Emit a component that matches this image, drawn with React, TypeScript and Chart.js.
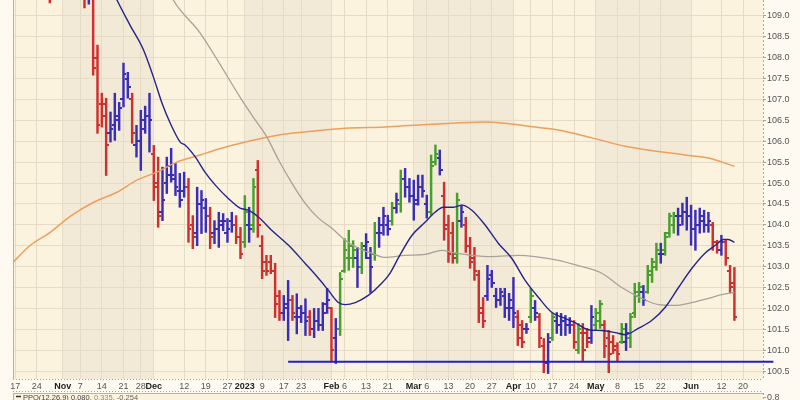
import React, { useEffect, useRef } from "react";
import { Chart, registerables } from "chart.js";
Chart.register(...registerables);

// ---- axis / ticks ----
const tickIdx = [0, 5, 11, 15, 20, 25, 29, 32, 39, 44, 49, 53, 57, 62, 66, 73, 76, 81, 86, 92, 95, 100, 105, 110, 115, 119, 124, 129, 134, 139, 144, 149, 156, 163, 168];
const tickLabels = ["17", "24", "Nov", "7", "14", "21", "28", "Dec", "12", "19", "27", "2023", "9", "17", "23", "Feb", "6", "13", "21", "Mar", "6", "13", "20", "27", "Apr", "10", "17", "24", "May", "8", "15", "22", "Jun", "12", "20"];
const majorLabels = ["Nov", "Dec", "2023", "Feb", "Mar", "Apr", "May", "Jun"];
const monthBands = [[11, 32], [53, 73], [92, 115], [134, 156]];
const priceTicks = [100.5, 101.0, 101.5, 102.0, 102.5, 103.0, 103.5, 104.0, 104.5, 105.0, 105.5, 106.0, 106.5, 107.0, 107.5, 108.0, 108.5, 109.0];
const xMin = -0.5;
const xMax = 172.6;
const yMin = 100.31;
const yMax = 109.38;

// ---- daily OHLC (index 0 = Oct 17, 2022) ----
const opens = [
  110.6, 110.5, 110.2, 110.4, 110.7, 110.3, 110.0, 110.2, 109.8, 109.6,
  110.0, 110.2, 109.9, 110.1, 110.4, 110.1, 109.8, 109.5, 109.5, 108.0,
  106.9, 106.9, 106.2, 106.4, 106.5, 107.0, 107.5, 107.0, 105.9, 106.0,
  106.5, 106.6, 105.7, 105.0, 104.3, 105.0, 105.4, 105.1, 104.8, 104.8,
  104.9, 104.0, 103.8, 104.5, 104.4, 104.2, 103.8, 103.9, 104.0, 103.8,
  104.1, 104.0, 103.7, 103.6, 104.0, 104.0, 105.3, 103.5, 103.1, 103.1,
  102.9, 102.3, 101.9, 102.0, 102.2, 101.8, 101.8, 101.9, 101.8, 101.5,
  101.7, 101.6, 102.1, 102.0, 101.3, 101.5, 102.9, 103.2, 103.2, 103.2,
  103.0, 103.5, 103.2, 103.3, 103.8, 104.0, 104.0, 104.1, 104.4, 104.5,
  105.1, 104.9, 104.7, 104.6, 104.9, 104.5, 104.3, 105.5, 105.6, 104.7,
  104.0, 103.8, 103.3, 104.1, 104.0, 103.5, 103.2, 102.8, 102.0, 102.3,
  102.8, 102.3, 102.2, 102.3, 102.0, 102.0, 101.8, 101.6, 101.5, 101.8,
  102.0, 101.8, 101.1, 100.7, 101.3, 101.7, 101.6, 101.7, 101.6, 101.6,
  101.0, 101.4, 101.4, 101.3, 101.6, 101.7, 101.6, 101.3, 101.2, 101.1,
  101.2, 101.2, 101.3, 101.9, 102.3, 102.4, 102.4, 102.8, 103.0, 103.3,
  103.4, 103.8, 104.0, 104.2, 104.2, 104.3, 104.2, 103.9, 104.0, 104.1,
  104.0, 104.0, 103.6, 103.4, 103.6, 102.9, 102.6,
];
const highs = [
  110.9, 110.8, 110.6, 110.9, 111.0, 110.5, 110.4, 110.5, 110.1, 110.2,
  110.4, 110.5, 110.3, 110.6, 110.7, 110.3, 110.0, 109.9, 109.7, 108.3,
  107.15, 107.03, 106.7, 107.15, 106.93, 107.87, 107.65, 107.15, 106.38, 106.74,
  106.84, 107.15, 105.9, 105.62, 105.38, 105.62, 105.83, 105.47, 105.23, 105.26,
  105.11, 104.22, 104.9, 104.82, 104.63, 104.42, 104.1, 104.3, 104.27, 104.15,
  104.3, 104.22, 103.94, 104.7, 104.42, 105.11, 105.54, 103.74, 103.27, 103.27,
  103.08, 102.43, 102.31, 102.67, 102.31, 102.35, 102.07, 102.23, 101.95, 102.0,
  102.0, 102.14, 102.48, 102.02, 101.76, 102.86, 103.67, 103.87, 103.62, 103.46,
  103.58, 103.79, 103.46, 104.06, 104.18, 104.42, 104.23, 104.54, 104.76, 105.31,
  105.35, 105.11, 105.07, 105.19, 105.19, 104.71, 105.67, 105.91, 105.79, 105.02,
  104.23, 104.06, 104.76, 104.47, 104.18, 103.7, 103.46, 102.91, 102.26, 103.03,
  102.91, 102.48, 102.48, 102.48, 102.36, 102.74, 101.95, 101.71, 101.64, 102.48,
  102.19, 101.88, 101.28, 101.4, 101.88, 101.9, 101.88, 101.83, 101.78, 101.71,
  101.64, 101.64, 101.52, 102.07, 102.0, 102.19, 101.71, 101.47, 101.35, 101.18,
  101.64, 101.64, 101.88, 102.6, 102.62, 102.55, 103.03, 103.2, 103.56, 103.56,
  103.82, 104.28, 104.3, 104.4, 104.52, 104.66, 104.47, 104.35, 104.4, 104.35,
  104.3, 104.06, 103.63, 103.75, 103.63, 103.03, 102.98,
];
const lows = [
  110.3, 110.1, 109.9, 110.2, 110.3, 109.8, 109.7, 109.6, 109.31, 109.5,
  109.7, 109.8, 109.6, 109.9, 110.0, 109.6, 109.19, 109.28, 107.58, 106.19,
  106.34, 105.18, 105.98, 106.02, 106.26, 106.82, 107.03, 105.95, 105.62, 105.3,
  106.19, 105.74, 104.58, 103.94, 104.1, 104.75, 105.02, 104.7, 104.42, 104.66,
  103.58, 103.43, 103.5, 103.79, 103.82, 103.43, 103.55, 103.46, 103.86, 103.58,
  103.82, 103.55, 103.19, 103.46, 103.58, 103.82, 103.7, 102.71, 102.79, 102.83,
  101.78, 101.71, 101.71, 101.23, 101.71, 101.39, 101.66, 101.35, 101.35, 101.3,
  101.47, 101.47, 101.88, 100.75, 100.68, 101.35, 102.86, 102.91, 102.98, 102.5,
  102.83, 103.19, 102.38, 103.15, 103.46, 103.75, 103.75, 103.99, 104.28, 104.3,
  104.66, 104.54, 104.11, 104.47, 104.66, 104.16, 104.23, 105.43, 105.19, 103.63,
  103.1, 103.08, 103.08, 103.94, 103.34, 102.96, 102.67, 101.66, 101.54, 102.19,
  102.5, 102.02, 102.07, 101.78, 101.71, 101.54, 101.11, 101.06, 101.4, 101.66,
  101.71, 101.06, 100.46, 100.44, 101.23, 101.4, 101.35, 101.35, 101.4, 101.04,
  100.92, 100.75, 101.06, 101.16, 101.47, 101.52, 100.82, 100.46, 100.92, 100.75,
  101.16, 100.99, 101.06, 101.78, 102.14, 102.07, 102.36, 102.62, 102.91, 103.08,
  103.27, 103.7, 103.8, 103.75, 103.99, 103.87, 103.51, 103.39, 103.8, 103.82,
  103.82, 103.39, 103.32, 103.27, 103.03, 102.38, 101.71,
];
const closes = [
  110.5, 110.2, 110.4, 110.7, 110.4, 110.0, 110.2, 109.8, 109.5, 110.0,
  110.2, 109.9, 110.1, 110.4, 110.1, 109.8, 109.4, 109.6, 107.75, 106.4,
  106.6, 105.9, 106.3, 106.6, 106.8, 107.6, 107.3, 106.2, 106.0, 106.3,
  106.6, 106.5, 104.9, 104.2, 104.6, 105.2, 105.2, 104.9, 104.6, 104.9,
  103.9, 103.7, 104.5, 104.6, 104.2, 103.7, 103.9, 104.1, 104.1, 103.9,
  104.0, 103.7, 103.3, 104.3, 103.9, 104.9, 104.0, 102.9, 102.9, 102.9,
  102.1, 101.9, 102.1, 102.2, 101.9, 102.0, 101.9, 101.7, 101.5, 101.7,
  101.6, 101.9, 102.2, 101.0, 101.5, 102.7, 103.4, 103.5, 103.4, 103.0,
  103.4, 103.6, 103.0, 103.8, 103.8, 104.2, 103.9, 104.4, 104.6, 105.1,
  104.9, 104.7, 104.5, 104.9, 104.8, 104.3, 105.4, 105.7, 105.3, 103.9,
  103.3, 103.2, 104.6, 104.3, 103.5, 103.1, 102.9, 101.9, 101.7, 102.7,
  102.6, 102.2, 102.4, 102.0, 102.2, 101.9, 101.3, 101.2, 101.5, 102.3,
  101.9, 101.3, 100.7, 101.2, 101.8, 101.6, 101.7, 101.6, 101.6, 101.2,
  101.5, 101.0, 101.2, 101.8, 101.9, 102.1, 101.1, 100.9, 101.0, 100.9,
  101.5, 101.4, 101.8, 102.4, 102.5, 102.2, 102.9, 103.1, 103.4, 103.3,
  103.7, 104.2, 104.2, 104.0, 104.3, 104.2, 103.9, 104.0, 104.2, 104.0,
  104.1, 103.6, 103.4, 103.6, 103.2, 102.5, 101.8,
];
// u = up bar, d = down bar, n = neutral bar
const barDirection = [
  "ndnuddnddu", "nnnndddndd", "ddnnnnndnn", "nnddnnnnnn", "ddnnndnnnn",
  "nddunudddd", "ddnndnnndn", "nnndnuuuun", "unnunnnunu", "nnnnnnuund",
  "ddundddddn", "nnnnnnddnu", "nddnunnnnd", "uddnuudddd", "unuuunuuun",
  "uuunnnnnnn", "nddnddd",
].join("").split("");

// ---- moving averages (trading-day index, value) ----
const ma20X = [20, 23.5, 26.5, 29.6, 31.9, 33.9, 35.8, 38.1, 39.2, 41.6, 43.8, 46.2, 49.2, 51.9, 53.8, 56.2, 59.2, 63.1, 66.9, 70.0, 72.3, 74.6, 76.2, 78.5, 81.5, 84.6, 86.5, 88.5, 91.6, 94.6, 96.9, 98.8, 101.2, 103.1, 105.4, 108.5, 111.5, 114.6, 117.7, 120.8, 123.9, 126.9, 129.2, 132.3, 135.4, 138.5, 140.8, 143.8, 146.9, 150.0, 153.1, 156.2, 159.2, 161.6, 163.5, 164.6, 166];
const ma20Y = [110.2, 109.38, 108.78, 108.19, 107.54, 106.91, 106.43, 105.98, 105.91, 105.62, 105.26, 104.95, 104.63, 104.4, 104.35, 104.18, 103.87, 103.51, 103.08, 102.72, 102.43, 102.14, 102.09, 102.14, 102.31, 102.6, 102.84, 103.22, 103.75, 104.06, 104.3, 104.42, 104.42, 104.47, 104.35, 103.99, 103.56, 103.2, 102.67, 102.26, 101.9, 101.76, 101.66, 101.49, 101.47, 101.42, 101.37, 101.52, 101.71, 102.02, 102.5, 102.96, 103.32, 103.51, 103.65, 103.65, 103.58];
const ma50X = [33, 36.5, 42.7, 52.3, 55.4, 58.1, 60.8, 63.9, 66.9, 70.0, 73.1, 76.2, 79.2, 82.3, 85.4, 90.0, 94.6, 98.5, 100.8, 105.4, 110.0, 116.2, 120.0, 125.4, 129.7, 135.4, 140.0, 144.6, 148.5, 152.3, 155.4, 160.0, 163.1, 166];
const ma50Y = [110.2, 109.38, 108.59, 106.99, 106.51, 106.1, 105.55, 104.99, 104.52, 104.16, 103.92, 103.63, 103.44, 103.32, 103.22, 103.27, 103.29, 103.39, 103.34, 103.27, 103.24, 103.27, 103.24, 103.15, 103.03, 102.84, 102.5, 102.24, 102.09, 102.07, 102.12, 102.24, 102.33, 102.38];
const ma200X = [-1, 3.5, 8.1, 12.7, 18.1, 23.5, 28.1, 32.7, 37.3, 42.7, 46.2, 53.1, 60.8, 68.5, 76.2, 85.4, 93.1, 100.8, 108.5, 113.1, 120.0, 125.4, 130.4, 135.0, 140.8, 154.6, 160.0, 166];
const ma200Y = [103.05, 103.51, 103.82, 104.2, 104.54, 104.78, 105.07, 105.26, 105.5, 105.67, 105.79, 105.98, 106.15, 106.24, 106.31, 106.34, 106.39, 106.43, 106.46, 106.43, 106.34, 106.27, 106.15, 106.03, 105.88, 105.67, 105.6, 105.4];
const supportLevel = 100.72;
const supportFrom = 63;
const supportTo = 175;

// ---- PPO panel header ----
const ppoName = "PPO(12,26,9)";
const ppoValues = ["0.080", "0.335", "-0.254"];
const ppoTopTick = "0.8";

const FONT = "'Liberation Sans', Arial, sans-serif";
const BAR_COLORS: Record<string, string> = { u: "#46A02B", d: "#CF2F2E", n: "#3A2DB6" };
const GRID = "#E6DCC5";

function makeTick(color: string, left: boolean): HTMLCanvasElement {
  const c = document.createElement("canvas");
  c.width = 6;
  c.height = 2;
  const g = c.getContext("2d")!;
  g.fillStyle = color;
  g.fillRect(left ? 0 : 3, 0, 3, 2);
  return c;
}

export default function App() {
  const ref = useRef<HTMLCanvasElement>(null);
  useEffect(() => {
    const leftTicks: Record<string, HTMLCanvasElement> = {};
    const rightTicks: Record<string, HTMLCanvasElement> = {};
    for (const k of Object.keys(BAR_COLORS)) {
      leftTicks[k] = makeTick(BAR_COLORS[k], true);
      rightTicks[k] = makeTick(BAR_COLORS[k], false);
    }
    const isMajor = (i: number) => majorLabels.includes(tickLabels[i]);

    const panelPlugin = {
      id: "panel",
      beforeDraw(chart: any) {
        const { ctx, chartArea: a, scales } = chart;
        ctx.save();
        ctx.fillStyle = "#FEFAF1";
        ctx.fillRect(0, 0, chart.width, chart.height);
        ctx.fillStyle = "#FCF3DE";
        ctx.fillRect(a.left, a.top, a.right - a.left, a.bottom - a.top);
        ctx.fillStyle = "#F2EAD6";
        for (const [s, e] of monthBands) {
          const x0 = scales.x.getPixelForValue(s);
          const x1 = scales.x.getPixelForValue(e);
          ctx.fillRect(x0, a.top, x1 - x0, a.bottom - a.top);
        }
        ctx.restore();
      },
      beforeDatasetsDraw(chart: any) {
        const { ctx, chartArea: a } = chart;
        ctx.save();
        ctx.lineWidth = 1;
        // left border
        ctx.strokeStyle = "#B9B29F";
        ctx.beginPath();
        ctx.moveTo(a.left + 0.5, a.top);
        ctx.lineTo(a.left + 0.5, a.bottom);
        ctx.stroke();
        // dotted date-band borders
        ctx.setLineDash([1, 2]);
        ctx.strokeStyle = "#A8A090";
        ctx.beginPath();
        ctx.moveTo(a.left, a.bottom + 0.5);
        ctx.lineTo(a.right, a.bottom + 0.5);
        ctx.moveTo(a.left, 391.5);
        ctx.lineTo(a.right, 391.5);
        ctx.stroke();
        // dashed right axis line
        ctx.setLineDash([2, 2]);
        ctx.strokeStyle = "#A8A8A8";
        ctx.beginPath();
        ctx.moveTo(a.right + 0.5, a.top);
        ctx.lineTo(a.right + 0.5, a.bottom);
        ctx.stroke();
        ctx.restore();
      },
      afterDraw(chart: any) {
        const { ctx, chartArea: a } = chart;
        ctx.save();
        ctx.lineWidth = 1;
        const top = 393;
        ctx.fillStyle = "#FCF3DE";
        ctx.fillRect(a.left, top, a.right - a.left, chart.height - top);
        ctx.strokeStyle = "#B9B29F";
        ctx.beginPath();
        ctx.moveTo(a.left, top + 0.5);
        ctx.lineTo(a.right, top + 0.5);
        ctx.moveTo(a.left + 0.5, top);
        ctx.lineTo(a.left + 0.5, chart.height);
        ctx.stroke();
        ctx.setLineDash([2, 2]);
        ctx.strokeStyle = "#A8A8A8";
        ctx.beginPath();
        ctx.moveTo(a.right + 0.5, top);
        ctx.lineTo(a.right + 0.5, chart.height);
        ctx.stroke();
        ctx.setLineDash([]);
        ctx.beginPath();
        ctx.moveTo(a.right, 397.5);
        ctx.lineTo(a.right + 3, 397.5);
        ctx.stroke();
        ctx.font = `9px ${FONT}`;
        ctx.fillStyle = "#555";
        ctx.textBaseline = "middle";
        ctx.fillText(ppoTopTick, a.right + 4, 397.5);
        ctx.strokeStyle = "#333";
        ctx.lineWidth = 1.5;
        ctx.beginPath();
        ctx.moveTo(16, 396.5);
        ctx.lineTo(21, 396.5);
        ctx.stroke();
        ctx.font = `7.5px ${FONT}`;
        ctx.textBaseline = "alphabetic";
        let x = 23;
        const parts: [string, string][] = [
          [ppoName + " " + ppoValues[0] + ", ", "#444"],
          [ppoValues[1], "#6E9E6E"],
          [", " + ppoValues[2], "#666"],
        ];
        for (const [t, c] of parts) {
          ctx.fillStyle = c;
          ctx.fillText(t, x, 399.5);
          x += ctx.measureText(t).width;
        }
        ctx.restore();
      },
    };

    const chart = new Chart(ref.current!, {
      type: "scatter",
      data: {
        datasets: [
          {
            type: "line",
            data: [{ x: supportFrom, y: supportLevel }, { x: supportTo, y: supportLevel }],
            borderColor: "#1E22C4",
            borderWidth: 2,
            pointRadius: 0,
            clip: { left: 0, top: 0, right: 11, bottom: 0 },
            order: 0,
          },
          {
            type: "line",
            data: ma20X.map((x, i) => ({ x, y: ma20Y[i] })),
            borderColor: "#24248C",
            borderWidth: 1.4,
            pointRadius: 0,
            cubicInterpolationMode: "monotone",
            clip: 0,
            order: 1,
          },
          {
            type: "line",
            data: ma50X.map((x, i) => ({ x, y: ma50Y[i] })),
            borderColor: "#A8A29A",
            borderWidth: 1.3,
            pointRadius: 0,
            cubicInterpolationMode: "monotone",
            clip: 0,
            order: 1,
          },
          {
            type: "line",
            data: ma200X.map((x, i) => ({ x, y: ma200Y[i] })),
            borderColor: "#EE9E5E",
            borderWidth: 1.5,
            pointRadius: 0,
            cubicInterpolationMode: "monotone",
            clip: 0,
            order: 1,
          },
          {
            type: "scatter",
            data: opens.map((o, i) => ({ x: i, y: o })),
            pointStyle: (ctx: any) => leftTicks[barDirection[ctx.dataIndex]],
            pointRadius: 3,
            clip: 0,
            order: 2,
          },
          {
            type: "scatter",
            data: closes.map((c, i) => ({ x: i, y: c })),
            pointStyle: (ctx: any) => rightTicks[barDirection[ctx.dataIndex]],
            pointRadius: 3,
            clip: 0,
            order: 2,
          },
          {
            type: "bar",
            data: highs.map((h, i) => ({ x: i, y: [lows[i], h] })),
            backgroundColor: (ctx: any) => BAR_COLORS[barDirection[ctx.dataIndex]],
            borderWidth: 0,
            barThickness: 1.8,
            grouped: false,
            clip: 0,
            order: 3,
          },
        ] as any,
      },
      options: {
        responsive: false,
        devicePixelRatio: 1,
        animation: false,
        events: [],
        layout: { autoPadding: false, padding: { left: 13, right: 0, top: 0, bottom: 0 } },
        plugins: { legend: { display: false }, tooltip: { enabled: false } },
        scales: {
          x: {
            type: "linear",
            offset: false,
            min: xMin,
            max: xMax,
            afterBuildTicks: (s: any) => {
              s.ticks = tickIdx.map((v) => ({ value: v }));
            },
            afterFit: (s: any) => {
              s.height = 21;
              s.paddingLeft = 0;
              s.paddingRight = 0;
            },
            grid: { color: GRID, drawTicks: false, lineWidth: 1, offset: false },
            border: { display: false },
            ticks: {
              autoSkip: false,
              maxRotation: 0,
              padding: 2,
              callback: (_v: any, i: number) => tickLabels[i],
              font: (ctx: any) => ({ family: FONT, size: 9, weight: isMajor(ctx.index) ? "bold" : "normal" }),
              color: (ctx: any) => (isMajor(ctx.index) ? "#1E1E1E" : "#555555"),
            },
          },
          y: {
            type: "linear",
            position: "right",
            min: yMin,
            max: yMax,
            afterBuildTicks: (s: any) => {
              s.ticks = priceTicks.map((v) => ({ value: v }));
            },
            afterFit: (s: any) => {
              s.width = 37;
              s.paddingTop = 0;
              s.paddingBottom = 0;
            },
            grid: { color: GRID, drawTicks: true, tickLength: 3, tickColor: "#A0A0A0" },
            border: { display: false },
            ticks: {
              padding: 1,
              color: "#555555",
              font: { family: FONT, size: 9 },
              callback: (v: any) => Number(v).toFixed(1),
            },
          },
        },
      } as any,
      plugins: [panelPlugin],
    });
    return () => chart.destroy();
  }, []);

  return (
    <div style={{ position: "fixed", left: 0, top: 0, width: 800, height: 400, background: "#FEFAF1" }}>
      <canvas ref={ref} width={800} height={400} style={{ display: "block", width: 800, height: 400 }} />
    </div>
  );
}
